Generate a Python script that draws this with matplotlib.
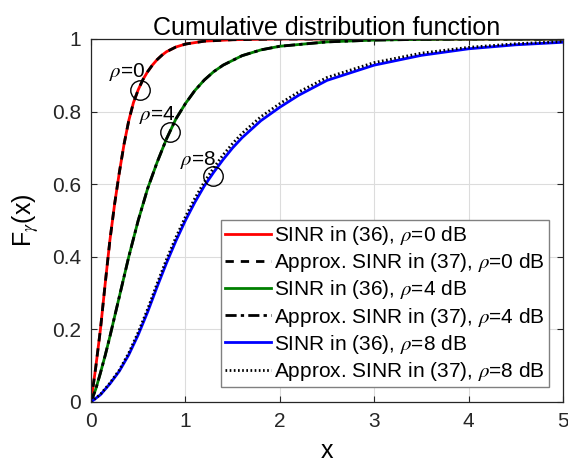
import numpy as np
import matplotlib
matplotlib.use("Agg")
import matplotlib.pyplot as plt

plt.rcParams['font.family'] = ['Liberation Sans', 'DejaVu Sans']
plt.rcParams['mathtext.fontset'] = 'stix'

# values
x_red = [0, 0.05, 0.1, 0.15, 0.2, 0.25, 0.3, 0.35, 0.4, 0.45, 0.5, 0.55, 0.6,
         0.65, 0.7, 0.75, 0.8, 0.9, 1.0, 1.2, 1.5, 2.0, 3.0, 4.0, 5.0]
cdf_rho0 = [0, 0.095, 0.2, 0.325, 0.445, 0.545, 0.632, 0.71, 0.775, 0.825, 0.86,
            0.888, 0.91, 0.928, 0.943, 0.955, 0.965, 0.978, 0.986, 0.994, 0.998,
            1.0, 1.0, 1.0, 1.0]
approx_rho0 = cdf_rho0

x_green = [0, 0.05, 0.1, 0.15, 0.2, 0.25, 0.3, 0.35, 0.4, 0.5, 0.6, 0.7, 0.8,
           0.9, 1.0, 1.1, 1.2, 1.3, 1.4, 1.6, 1.8, 2.0, 2.5, 3.0, 3.5, 4.0, 5.0]
cdf_rho4 = [0, 0.035, 0.08, 0.128, 0.18, 0.235, 0.29, 0.345, 0.4, 0.5, 0.588,
            0.66, 0.725, 0.78, 0.822, 0.858, 0.887, 0.91, 0.928, 0.954, 0.97,
            0.98, 0.992, 0.997, 0.999, 1.0, 1.0]
approx_rho4 = cdf_rho4

x_blue = [0, 0.1, 0.2, 0.3, 0.4, 0.5, 0.6, 0.7, 0.8, 0.9, 1.0, 1.1, 1.2, 1.3,
          1.4, 1.5, 1.6, 1.8, 2.0, 2.2, 2.5, 3.0, 3.5, 4.0, 4.5, 5.0]
cdf_rho8 = [0, 0.02, 0.05, 0.085, 0.13, 0.185, 0.248, 0.317, 0.383, 0.444, 0.5,
            0.55, 0.595, 0.633, 0.668, 0.7, 0.728, 0.775, 0.812, 0.845, 0.886,
            0.928, 0.955, 0.973, 0.984, 0.991]
approx_rho8 = [0, 0.021, 0.052, 0.088, 0.135, 0.192, 0.256, 0.326, 0.393, 0.454,
               0.51, 0.561, 0.606, 0.645, 0.681, 0.712, 0.74, 0.786, 0.822, 0.854,
               0.894, 0.935, 0.961, 0.977, 0.987, 0.993]

mark_labels = [r'$\rho$=0', r'$\rho$=4', r'$\rho$=8']
mark_x = [0.52, 0.837, 1.289]
mark_y = [0.86, 0.743, 0.622]
text_x = [0.38, 0.70, 1.14]
text_y = [0.91, 0.79, 0.667]

fig = plt.figure(figsize=(5.68, 4.67), dpi=100)
ax = fig.add_axes([0.1602, 0.1392, 0.8310, 0.7773])

lw = 2.0
ax.plot(x_red, cdf_rho0, color='red', lw=lw, label=r'SINR in (36), $\rho$=0 dB')
ax.plot(x_red, approx_rho0, color='black', lw=lw, ls=(0, (3, 2.5)),
        label=r'Approx. SINR in (37), $\rho$=0 dB')
ax.plot(x_green, cdf_rho4, color='green', lw=lw, label=r'SINR in (36), $\rho$=4 dB')
ax.plot(x_green, approx_rho4, color='black', lw=lw, ls=(0, (4, 1.5, 1.2, 1.5)),
        label=r'Approx. SINR in (37), $\rho$=4 dB')
ax.plot(x_blue, cdf_rho8, color='blue', lw=lw, label=r'SINR in (36), $\rho$=8 dB')
ax.plot(x_blue, approx_rho8, color='black', lw=lw, ls=(0, (0.6, 0.9)),
        label=r'Approx. SINR in (37), $\rho$=8 dB')

for lab, mx, my, tx, ty in zip(mark_labels, mark_x, mark_y, text_x, text_y):
    ax.plot(mx, my, marker='o', ms=14, mfc='none', mec='black', mew=1.0)
    ax.text(tx, ty, lab, fontsize=15, ha='center', va='center')

ax.set_xlim(0, 5)
ax.set_ylim(0, 1)
ax.set_xticks([0, 1, 2, 3, 4, 5])
ax.set_yticks([0, 0.2, 0.4, 0.6, 0.8, 1])
ax.set_yticklabels(['0', '0.2', '0.4', '0.6', '0.8', '1'])
ax.grid(True, color='#dcdcdc', lw=0.8)
ax.set_axisbelow(True)
for s in ax.spines.values():
    s.set_color('#262626')
    s.set_linewidth(0.9)
ax.tick_params(direction='in', length=4, width=0.8, colors='#262626',
               labelsize=15, top=True, right=True, pad=7)

ax.set_title('Cumulative distribution function', fontsize=18, pad=3)
ax.set_xlabel('x', fontsize=18, labelpad=6)
ax.set_ylabel(r'F$_\gamma$(x)', fontsize=18, labelpad=8)

leg = ax.legend(loc='lower right', bbox_to_anchor=(0.970, 0.041), fontsize=15,
                frameon=True, fancybox=False, edgecolor='#808080', framealpha=1,
                handlelength=2.2, handletextpad=0.15, labelspacing=0.2,
                borderpad=0.2, borderaxespad=0)
leg.get_frame().set_linewidth(1.0)

fig.savefig('out.png', dpi=100)
